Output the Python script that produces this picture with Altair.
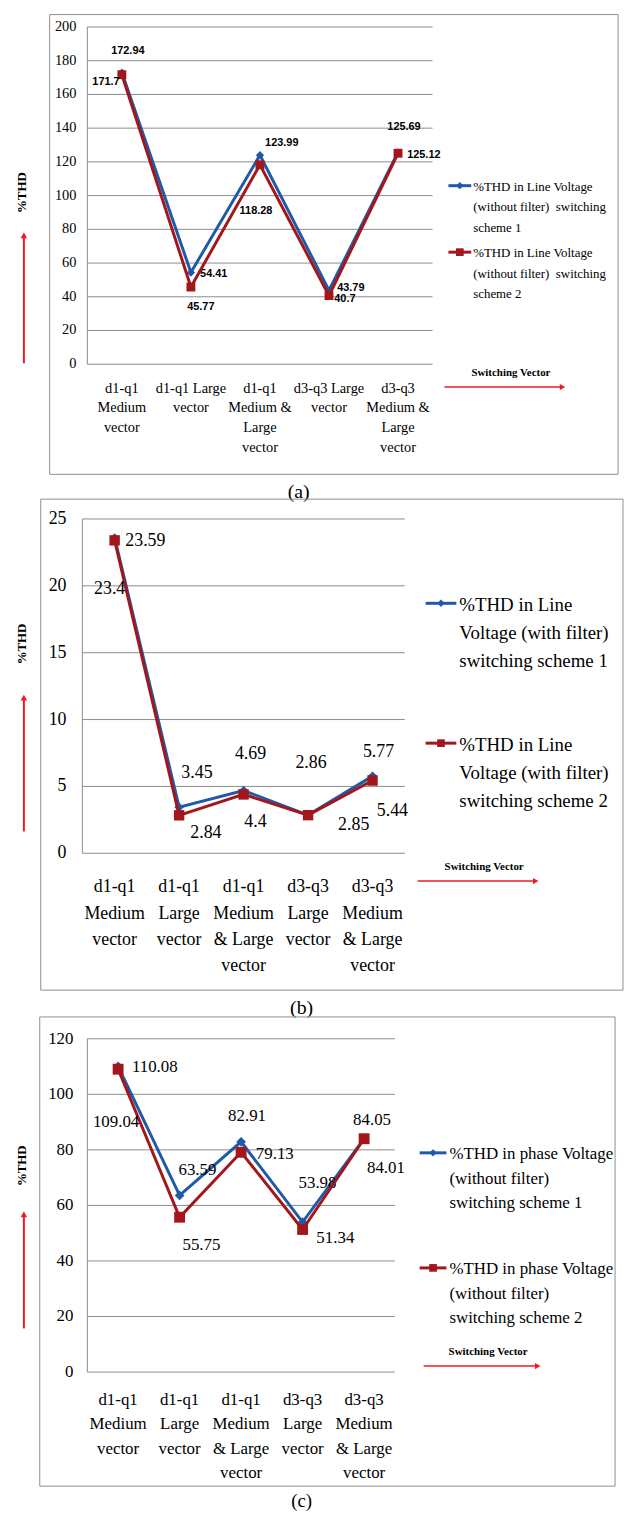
import altair as alt
import pandas as pd

# ---------------- data ----------------
categories = ["d1-q1 Medium vector", "d1-q1 Large vector", "d1-q1 Medium & Large vector",
              "d3-q3 Large vector", "d3-q3 Medium & Large vector"]

a_scheme1 = [172.94, 54.41, 123.99, 43.79, 125.69]
a_scheme2 = [171.7, 45.77, 118.28, 40.7, 125.12]
b_scheme1 = [23.59, 3.45, 4.69, 2.86, 5.77]
b_scheme2 = [23.4, 2.84, 4.4, 2.85, 5.44]
c_scheme1 = [110.08, 63.59, 82.91, 53.98, 84.05]
c_scheme2 = [109.04, 55.75, 79.13, 51.34, 84.01]

a_ticks = [0, 20, 40, 60, 80, 100, 120, 140, 160, 180, 200]
b_ticks = [0, 5, 10, 15, 20, 25]
c_ticks = [0, 20, 40, 60, 80, 100, 120]

a_cat_labels = ["d1-q1\nMedium\nvector", "d1-q1 Large\nvector", "d1-q1\nMedium &\nLarge\nvector",
                "d3-q3 Large\nvector", "d3-q3\nMedium &\nLarge\nvector"]
bc_cat_labels = ["d1-q1\nMedium\nvector", "d1-q1\nLarge\nvector", "d1-q1\nMedium\n& Large\nvector",
                 "d3-q3\nLarge\nvector", "d3-q3\nMedium\n& Large\nvector"]

a_legend = ["%THD in Line Voltage\n(without filter)\u00a0 switching\nscheme 1",
            "%THD in Line Voltage\n(without filter)\u00a0 switching\nscheme 2"]
b_legend = ["%THD in Line\nVoltage (with filter)\nswitching scheme 1",
            "%THD in Line\nVoltage (with filter)\nswitching scheme 2"]
c_legend = ["%THD in phase Voltage\n(without filter)\nswitching scheme 1",
            "%THD in phase Voltage\n(without filter)\nswitching scheme 2"]

y_title = "%THD"
x_note = "Switching Vector"
captions = ["(a)", "(b)", "(c)"]

# ---------------- styles / layout ----------------
BLUE = "#1f5aa8"
RED = "#a3161c"
ARROW = "#ec1c24"
GRID = "#8c8c8c"
BOX = "#8f8f8f"
SERIF = "Liberation Serif"
W = 620

panels = [
    dict(H=488, box=(42, 0.5, 615, 464), x0=80, x1=428, ybot=353, ytop=13, ymax=200,
         ticks=a_ticks, tick_x=69, tick_fs=14.5, cats=a_cat_labels, cat_c=377, cat_lh=20, cat_fs=14.5,
         dl_fs=11, dl_w="bold", dl_font="Liberation Sans Narrow, Liberation Sans",
         s1=a_scheme1, s2=a_scheme2,
         off1=[(6, -22), (23, 2), (22, -12), (22, -2), (6, -25)],
         off2=[(-16, 7), (10, 20), (-4, 47), (16, 3), (26, 2)],
         lw=3, sq=80, dm=70,
         thd=(14, 180), arr_x=16, arr_bot=352, arr_tip=219,
         leg=a_legend, leg_lx=(444, 467), leg_y=(173, 240), leg_tx=469, leg_fs=13, leg_lh=20.5,
         sw=(507, 362), sw_arr=(440, 562, 376),
         cap=(293, 482, 20), label=captions[0]),
    dict(H=521, box=(33, 1, 620, 496), x0=75, x1=400, ybot=358, ytop=21, ymax=25,
         ticks=b_ticks, tick_x=59, tick_fs=18, cats=bc_cat_labels, cat_c=391, cat_lh=26.7, cat_fs=18,
         dl_fs=18, dl_w="normal", dl_font=SERIF,
         s1=b_scheme1, s2=b_scheme2,
         off1=[(31, 3), (18, -34), (7, -37), (3, -52), (6, -24)],
         off2=[(-5, 49), (27, 18), (12, 28), (46, 10), (20, 31)],
         lw=3, sq=110, dm=90,
         thd=(14, 147), arr_x=16, arr_bot=336, arr_tip=197,
         leg=b_legend, leg_lx=(421, 452), leg_y=(106, 247), leg_tx=455, leg_fs=19, leg_lh=28.5,
         sw=(480, 372), sw_arr=(413, 535, 386),
         cap=(296, 514, 20), label=captions[1]),
    dict(H=501, box=(32, 2, 612, 475), x0=80, x1=390, ybot=360, ytop=24, ymax=120,
         ticks=c_ticks, tick_x=66, tick_fs=17, cats=bc_cat_labels, cat_c=388, cat_lh=24.3, cat_fs=17,
         dl_fs=17, dl_w="normal", dl_font=SERIF,
         s1=c_scheme1, s2=c_scheme2,
         off1=[(37, 1), (18, -26), (6, -26), (15, -39), (8, -19)],
         off2=[(-2, 53), (22, 28), (34, 2), (33, 9), (22, 30)],
         lw=3, sq=120, dm=95,
         thd=(14, 152), arr_x=16, arr_bot=316, arr_tip=197,
         leg=c_legend, leg_lx=(415, 442), leg_y=(139, 255), leg_tx=445, leg_fs=17, leg_lh=24.5,
         sw=(484, 340), sw_arr=(419, 537, 354),
         cap=(296, 490, 19), label=captions[2]),
]

ONE = pd.DataFrame({"k": [0]})


def vc():
    return alt.Chart(ONE)


def build(p):
    xs = alt.Scale(type="point", domain=categories, range=[p["x0"], p["x1"]], padding=0.5)
    ys = alt.Scale(domain=[0, p["ymax"]], range=[p["ybot"], p["ytop"]], nice=False)
    X = alt.X("cat:N", scale=xs, axis=None)
    Y = alt.Y("val:Q", scale=ys, axis=None)
    layers = []

    bx0, by0, bx1, by1 = p["box"]
    layers.append(vc().mark_rect(fillOpacity=0, stroke=BOX, strokeWidth=1).encode(
        x=alt.value(bx0), x2=alt.value(bx1), y=alt.value(by0), y2=alt.value(by1)))

    tdf = pd.DataFrame({"val": p["ticks"], "t": [str(t) for t in p["ticks"]]})
    layers.append(alt.Chart(tdf).mark_rule(color=GRID, strokeWidth=1).encode(
        y=Y, x=alt.value(p["x0"]), x2=alt.value(p["x1"])))
    layers.append(vc().mark_rule(color=GRID, strokeWidth=1).encode(
        x=alt.value(p["x0"]), y=alt.value(p["ytop"]), y2=alt.value(p["ybot"])))
    layers.append(alt.Chart(tdf).mark_text(align="right", baseline="middle", font=SERIF,
                                           fontSize=p["tick_fs"], color="#000").encode(
        y=Y, x=alt.value(p["tick_x"]), text="t:N"))

    cdf = pd.DataFrame({"cat": categories, "lab": p["cats"]})
    layers.append(alt.Chart(cdf).mark_text(align="center", baseline="top", lineBreak="\n",
                                           lineHeight=p["cat_lh"], font=SERIF,
                                           fontSize=p["cat_fs"], color="#000").encode(
        x=X, y=alt.value(p["cat_c"] - 0.44 * p["cat_fs"]), text="lab:N"))

    for vals, color, shape, size, offs in [(p["s1"], BLUE, "diamond", p["dm"], p["off1"]),
                                          (p["s2"], RED, "square", p["sq"], p["off2"])]:
        df = pd.DataFrame({"cat": categories, "val": vals,
                           "label": [format(v, "g") for v in vals]})
        layers.append(alt.Chart(df).mark_line(color=color, strokeWidth=p["lw"]).encode(x=X, y=Y))
        layers.append(alt.Chart(df).mark_point(shape=shape, filled=True, size=size, color=color,
                                               opacity=1).encode(x=X, y=Y))
        for i, (dx, dy) in enumerate(offs):
            layers.append(alt.Chart(df.iloc[[i]]).mark_text(
                dx=dx, dy=dy, align="center", baseline="middle", font=p["dl_font"],
                fontSize=p["dl_fs"], fontWeight=p["dl_w"], color="#000").encode(
                x=X, y=Y, text="label:N"))

    # y title with arrow
    tx, ty = p["thd"]
    layers.append(vc().mark_text(text=y_title, angle=270, font=SERIF, fontWeight="bold",
                                 fontSize=13, align="center", baseline="middle", color="#000").encode(
        x=alt.value(tx), y=alt.value(ty)))
    layers.append(vc().mark_rule(color=ARROW, strokeWidth=2).encode(
        x=alt.value(p["arr_x"]), y=alt.value(p["arr_tip"] + 5), y2=alt.value(p["arr_bot"])))
    layers.append(vc().mark_point(shape="triangle-up", filled=True, size=45, color=ARROW,
                                  opacity=1).encode(x=alt.value(p["arr_x"]), y=alt.value(p["arr_tip"] + 4)))

    # legend
    lx0, lx1 = p["leg_lx"]
    for k, (color, shape, size) in enumerate([(BLUE, "diamond", 55), (RED, "square", 60)]):
        ly = p["leg_y"][k]
        layers.append(vc().mark_rule(color=color, strokeWidth=3).encode(
            x=alt.value(lx0), x2=alt.value(lx1), y=alt.value(ly)))
        layers.append(vc().mark_point(shape=shape, filled=True, size=size, color=color,
                                      opacity=1).encode(x=alt.value((lx0 + lx1) / 2), y=alt.value(ly)))
        layers.append(vc().mark_text(text=p["leg"][k], lineBreak="\n", lineHeight=p["leg_lh"],
                                     align="left", baseline="top", font=SERIF,
                                     fontSize=p["leg_fs"], color="#000").encode(
            x=alt.value(p["leg_tx"]), y=alt.value(ly + 1 - 0.44 * p["leg_fs"])))

    # switching vector note and arrow
    sx, sy = p["sw"]
    layers.append(vc().mark_text(text=x_note, font=SERIF, fontWeight="bold", fontSize=11,
                                 align="center", baseline="middle", color="#000").encode(
        x=alt.value(sx), y=alt.value(sy)))
    ax0, ax1, ay = p["sw_arr"]
    layers.append(vc().mark_rule(color=ARROW, strokeWidth=1.5).encode(
        x=alt.value(ax0), x2=alt.value(ax1 - 4), y=alt.value(ay)))
    layers.append(vc().mark_point(shape="triangle-right", filled=True, size=40, color=ARROW,
                                  opacity=1).encode(x=alt.value(ax1 - 3), y=alt.value(ay)))

    cx, cy, cfs = p["cap"]
    layers.append(vc().mark_text(text=p["label"], font=SERIF, fontSize=cfs, align="center",
                                 baseline="middle", color="#000").encode(
        x=alt.value(cx), y=alt.value(cy)))

    return alt.layer(*layers).properties(width=W, height=p["H"])


chart = alt.vconcat(*[build(p) for p in panels], spacing=0, bounds="flush").resolve_scale(
    x="independent", y="independent").properties(padding=0).configure_view(stroke=None)

chart.save("out.html", embed_options={"renderer": "svg", "actions": False})
